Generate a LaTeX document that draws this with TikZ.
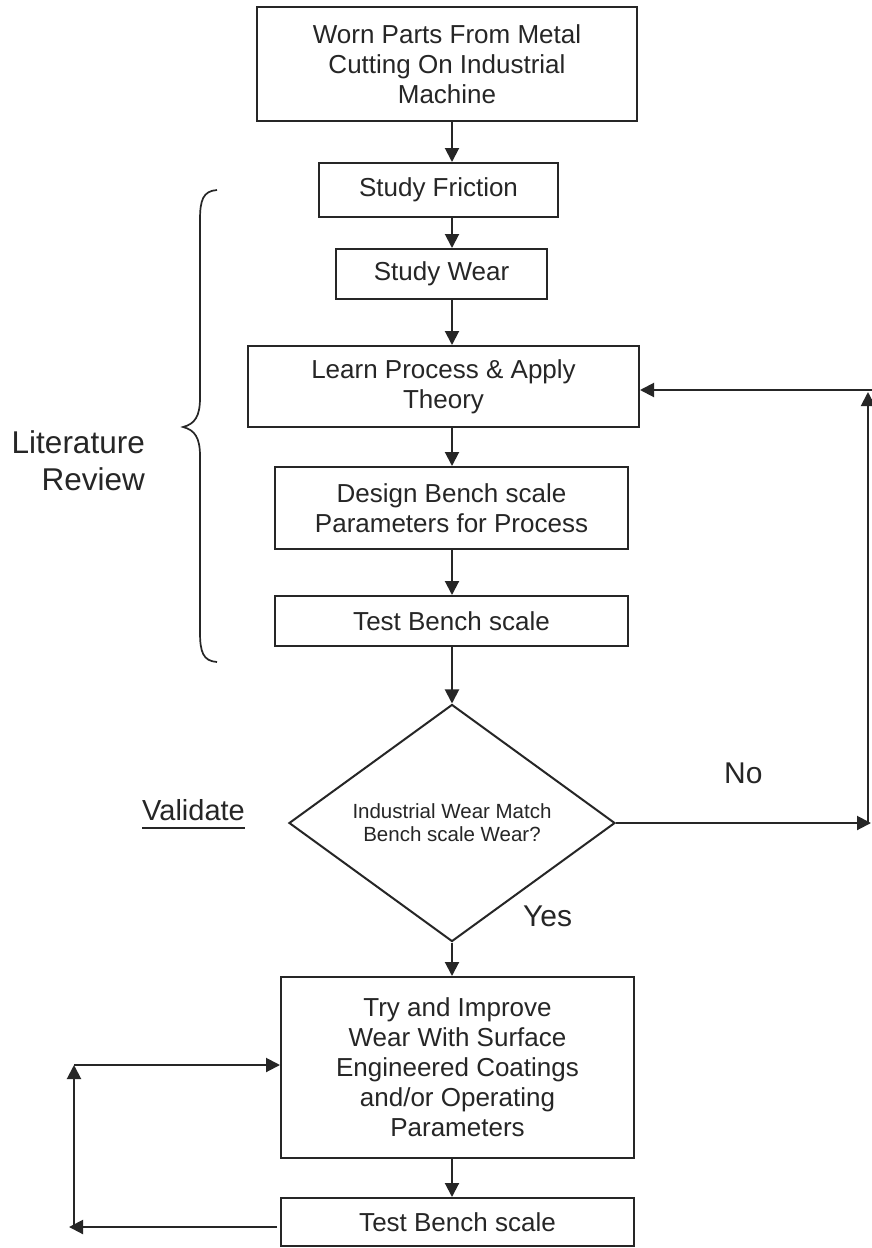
\documentclass[tikz,border=0pt]{standalone}
\usepackage{fontspec}
\setmainfont{Liberation Sans}
\usetikzlibrary{arrows.meta,shapes.geometric}
\definecolor{ink}{HTML}{262626}
\begin{document}
\begin{tikzpicture}[x=1pt,y=-1pt,
  box/.style={draw=ink, line width=2pt, inner sep=0pt, align=center, text=ink,
    font=\fontsize{26}{30}\selectfont},
  arr/.style={draw=ink, line width=2pt, -{Triangle[length=14pt,width=14pt]}},
  lbl/.style={text=ink, inner sep=0pt}]
\fill[white] (0,0) rectangle (872,1248);
\useasboundingbox (0,0) rectangle (872,1248);

\coordinate (colx) at (452,0);

% boxes
\node[box, minimum width=380pt, minimum height=114pt] (A) at (447,64)
  {Worn Parts From Metal\\Cutting On Industrial\\Machine};
\node[box, minimum width=239pt, minimum height=54pt] (B) at (438.5,190) {Study Friction};
\node[box, minimum width=211pt, minimum height=50pt] (C) at (441.5,274) {Study Wear};
\node[box, minimum width=391pt, minimum height=81pt] (D) at (443.5,386.5)
  {Learn Process \& Apply\\Theory};
\node[box, minimum width=353pt, minimum height=82pt] (E) at (451.5,508)
  {Design Bench scale\\Parameters for Process};
\node[box, minimum width=353pt, minimum height=50pt] (F) at (451.5,621) {Test Bench scale};
\node[box, shape=diamond, minimum width=326pt, minimum height=222pt,
  font=\fontsize{20.5}{23}\selectfont] (G) at (452,823)
  {Industrial Wear Match\\Bench scale Wear?};
\node[box, minimum width=353pt, minimum height=181pt] (H) at (457.5,1067.5)
  {Try and Improve\\Wear With Surface\\Engineered Coatings\\and/or Operating\\Parameters};
\node[box, minimum width=353pt, minimum height=48pt] (I) at (457.5,1222) {Test Bench scale};

% main flow
\draw[arr] (A.south -| colx) -- (B.north -| colx);
\draw[arr] (B.south -| colx) -- (C.north -| colx);
\draw[arr] (C.south -| colx) -- (D.north -| colx);
\draw[arr] (D.south -| colx) -- (E.north -| colx);
\draw[arr] (E.south -| colx) -- (F.north -| colx);
\draw[arr] (F.south -| colx) -- (G.north);
\draw[arr] (G.south) -- (H.north -| colx);
\draw[arr] (H.south -| colx) -- (I.north -| colx);

% "No" loop
\coordinate (noEnd) at (871,823);
\coordinate (rBot) at (868,823);
\coordinate (rTop) at (868,392);
\coordinate (rIn) at (872,390);
\draw[arr] (G.east) -- (noEnd);
\draw[arr] (rBot) -- (rTop);
\draw[arr] (rIn) -- (rIn -| D.east);

% bottom loop
\coordinate (lOut) at (277,1227);
\coordinate (lEnd) at (69,1227);
\coordinate (lBot) at (74,1227);
\coordinate (lTop) at (74,1065);
\draw[arr] (lOut) -- (lEnd);
\draw[arr] (lBot) -- (lTop);
\draw[arr] (lTop) -- (lTop -| H.west);

% brace
\draw[ink, line width=1.7pt] (217,190) .. controls (203,191) and (200,200) .. (200,220)
  -- (200,398) .. controls (200,416) and (195,424) .. (183,427)
  .. controls (195,430) and (200,438) .. (200,456)
  -- (200,632) .. controls (200,652) and (203,661) .. (217,662);

% labels
\node[lbl, anchor=base east, font=\fontsize{31.5}{37}\selectfont] (lit) at (145,453) {Literature};
\node[lbl, anchor=base east, font=\fontsize{31.5}{37}\selectfont] (rev) at (145,490) {Review};
\node[lbl, anchor=base west, font=\fontsize{29}{34}\selectfont] (val) at (142,820) {Validate};
\draw[ink, line width=2pt] ([yshift=-8pt]val.base west) -- ([yshift=-8pt]val.base east);
\node[lbl, anchor=base west, font=\fontsize{30}{34}\selectfont] (no) at (724,783) {No};
\node[lbl, anchor=base west, font=\fontsize{30}{34}\selectfont] (yes) at (523,926) {Yes};
\end{tikzpicture}
\end{document}
